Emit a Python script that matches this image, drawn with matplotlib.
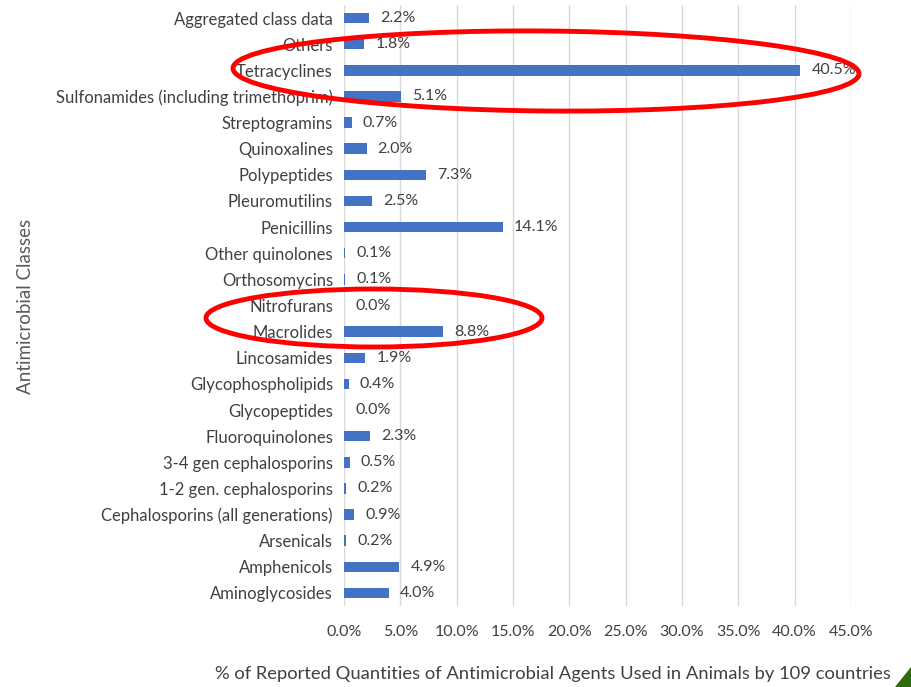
import matplotlib
matplotlib.use("Agg")
import matplotlib.pyplot as plt
from matplotlib.patches import Ellipse, Polygon
from matplotlib.ticker import PercentFormatter

plt.rcParams['font.family'] = ['Lato', 'DejaVu Sans']

classes = [
    "Aminoglycosides", "Amphenicols", "Arsenicals",
    "Cephalosporins (all generations)", "1-2 gen. cephalosporins",
    "3-4 gen cephalosporins", "Fluoroquinolones", "Glycopeptides",
    "Glycophospholipids", "Lincosamides", "Macrolides", "Nitrofurans",
    "Orthosomycins", "Other quinolones", "Penicillins", "Pleuromutilins",
    "Polypeptides", "Quinoxalines", "Streptogramins",
    "Sulfonamides (including trimethoprim)", "Tetracyclines", "Others",
    "Aggregated class data",
]
shares = [4.0, 4.9, 0.2, 0.9, 0.2, 0.5, 2.3, 0.0, 0.4, 1.9, 8.8, 0.0,
          0.1, 0.1, 14.1, 2.5, 7.3, 2.0, 0.7, 5.1, 40.5, 1.8, 2.2]
xticks = [0, 5, 10, 15, 20, 25, 30, 35, 40, 45]

W, H = 911, 687
fig = plt.figure(figsize=(W / 100, H / 100), dpi=100)
ax = fig.add_axes([344 / W, 1 - 606 / H, (851 - 344) / W, (606 - 5) / H])

text_col = "#404040"
y = range(len(classes))
ax.barh(y, shares, height=0.4, color="#4472C4", zorder=3)
for yi, v in zip(y, shares):
    ax.annotate(f"{v:.1f}%", (v, yi), xytext=(8, 0), textcoords="offset points",
                va="center", ha="left", fontsize=11.5, color=text_col, zorder=4)

ax.set_xlim(0, 45)
ax.set_ylim(-0.5, len(classes) - 0.5)
ax.set_xticks(xticks)
ax.xaxis.set_major_formatter(PercentFormatter(decimals=1))
ax.set_yticks(list(y))
ax.set_yticklabels(classes)
ax.tick_params(axis="both", length=0, labelsize=12, colors=text_col)
ax.tick_params(axis="x", labelsize=11.5, pad=14)
ax.tick_params(axis="y", pad=8)
ax.grid(axis="x", color="#D9D9D9", linewidth=1, zorder=0)
for s in ax.spines.values():
    s.set_visible(False)

fig.text(553 / W, 1 - 674 / H,
         "% of Reported Quantities of Antimicrobial Agents Used in Animals by 109 countries",
         ha="center", va="center", fontsize=13.2, color=text_col)
fig.text(26 / W, 1 - 306 / H, "Antimicrobial Classes", rotation=90,
         ha="center", va="center", fontsize=13.5, color="#595959")

# red highlight rings (figure pixel coordinates, origin bottom-left)
ring_kw = dict(fill=False, edgecolor="#FF0000", linewidth=3.5,
               transform=None, zorder=10)
fig.patches.append(Ellipse((546, H - 71), 626, 80, angle=-0.5, **ring_kw))
fig.patches.append(Ellipse((374, H - 318), 336, 58, **ring_kw))

# corner accent
fig.patches.append(Polygon([(895, 0), (911, 0), (911, 20)], closed=True,
                           facecolor="#2E6B0E", edgecolor="none",
                           transform=None, zorder=10))

fig.savefig("out.png", dpi=100)
